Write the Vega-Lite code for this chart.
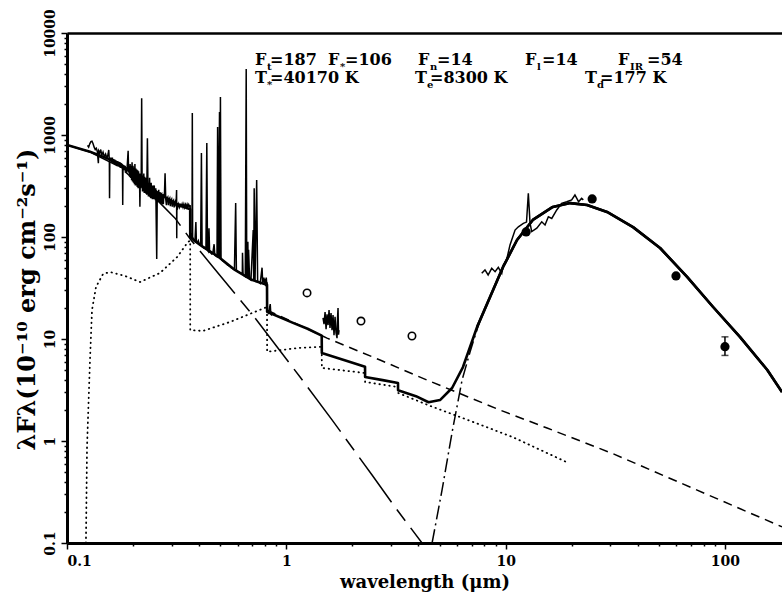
{
  "$schema": "https://vega.github.io/schema/vega-lite/v6.json",
  "width": 715,
  "height": 510,
  "autosize": {"type": "none"},
  "padding": {"left": 67, "top": 33, "right": 0, "bottom": 51},
  "background": "white",
  "config": {
    "view": {"stroke": null},
    "axis": {"grid": false, "domainColor": "black", "tickColor": "black", "labelColor": "black", "titleColor": "black", "labelFont": "DejaVu Serif", "titleFont": "DejaVu Serif", "labelFontWeight": "bold", "titleFontWeight": "bold", "labelFontSize": 14, "titleFontSize": 18}
  },
  "datasets": {
    "total": [
      {"w":0.1,"f":798},{"w":0.1273,"f":687},{"w":0.1744,"f":527},{"w":0.2153,"f":360},{"w":0.2572,"f":276},{"w":0.3109,"f":214},{"w":0.35,"f":193},{"w":0.3645,"f":187},{"w":0.3647,"f":100},{"w":0.3835,"f":91},{"w":0.417,"f":80},{"w":0.49,"f":64},{"w":0.583,"f":47.5},{"w":0.695,"f":38},{"w":0.8165,"f":34},{"w":0.8175,"f":18.5},{"w":1.073,"f":14.4},{"w":1.25,"f":12.6},{"w":1.45,"f":10.8},{"w":1.452,"f":7.3},{"w":1.8,"f":6.3},{"w":2.285,"f":5.35},{"w":2.287,"f":4.25},{"w":2.75,"f":3.95},{"w":3.23,"f":3.7},{"w":3.232,"f":3.15},{"w":3.9,"f":2.75},{"w":4.45,"f":2.4},{"w":5.02,"f":2.52},{"w":5.7,"f":3.31},{"w":6.39,"f":5.31},{"w":7.41,"f":13.1},{"w":8.49,"f":25.8},{"w":9.73,"f":50.8},{"w":11.27,"f":93.5},{"w":13.3,"f":147},{"w":16.4,"f":197},{"w":19.7,"f":215},{"w":23.5,"f":206},{"w":29,"f":176},{"w":38.1,"f":125},{"w":50.6,"f":78},{"w":67.2,"f":40.6},{"w":88.3,"f":20.6},{"w":117,"f":10.5},{"w":156,"f":4.97},{"w":182,"f":3.02}
    ],
    "star": [
      {"w":0.1,"f":798},{"w":0.1273,"f":681},{"w":0.1744,"f":485},{"w":0.2572,"f":231},{"w":0.3109,"f":153},{"w":0.3675,"f":93.5},{"w":0.4632,"f":50.8},{"w":0.7199,"f":16.1},{"w":1.155,"f":4.24},{"w":1.616,"f":1.61},{"w":2.46,"f":0.464},{"w":3.13,"f":0.225},{"w":4.157,"f":0.1}
    ],
    "neb": [
      {"w":0.122,"f":0.1},{"w":0.1234,"f":0.87},{"w":0.1273,"f":6.2},{"w":0.13,"f":19.2},{"w":0.1356,"f":32.4},{"w":0.146,"f":43.4},{"w":0.157,"f":45.4},{"w":0.184,"f":41.5},{"w":0.2153,"f":36.2},{"w":0.2655,"f":44.4},{"w":0.318,"f":63.7},{"w":0.356,"f":89.3},{"w":0.3645,"f":92},{"w":0.3647,"f":12.2},{"w":0.417,"f":12},{"w":0.554,"f":14.7},{"w":0.8165,"f":20.6},{"w":0.8175,"f":7.5},{"w":1.155,"f":8.2},{"w":1.45,"f":8.4},{"w":1.452,"f":5.2},{"w":2.285,"f":4.64},{"w":2.287,"f":3.79},{"w":3.23,"f":3.38},{"w":3.232,"f":2.96},{"w":4.43,"f":2.25},{"w":6.19,"f":1.72},{"w":10.8,"f":1.09},{"w":19.3,"f":0.61}
    ],
    "dashed": [
      {"w":0.818,"f":19.2},{"w":1.533,"f":10.2},{"w":2.675,"f":6.22},{"w":4.38,"f":3.96},{"w":9.43,"f":2.01},{"w":15.45,"f":1.34},{"w":30.9,"f":0.75},{"w":182,"f":0.144}
    ],
    "dust": [
      {"w":4.62,"f":0.1},{"w":5.13,"f":0.331},{"w":5.7,"f":1.22},{"w":6.33,"f":3.96},{"w":6.88,"f":7.46},{"w":7.64,"f":15.3},{"w":8.49,"f":25.8},{"w":9.73,"f":50.8},{"w":11.27,"f":93.5},{"w":13.3,"f":147},{"w":16.4,"f":197},{"w":19.7,"f":215},{"w":23.5,"f":206},{"w":29,"f":176},{"w":38.1,"f":125},{"w":50.6,"f":78},{"w":67.2,"f":40.6},{"w":88.3,"f":20.6},{"w":117,"f":10.5},{"w":156,"f":4.97},{"w":182,"f":3.02}
    ],
    "obs": [
      {"w":0.124,"f":790,"s":"a"},{"w":0.1255,"f":760,"s":"a"},{"w":0.127,"f":820,"s":"a"},{"w":0.1285,"f":860,"s":"a"},{"w":0.13,"f":870,"s":"a"},{"w":0.1315,"f":820,"s":"a"},{"w":0.133,"f":760,"s":"a"},{"w":0.1345,"f":720,"s":"a"},{"w":0.136,"f":740,"s":"a"},{"w":0.1375,"f":690,"s":"a"},{"w":0.139,"f":528,"s":"a"},{"w":0.1395,"f":700,"s":"a"},{"w":0.141,"f":670,"s":"a"},{"w":0.1425,"f":720,"s":"a"},{"w":0.144,"f":630,"s":"a"},{"w":0.146,"f":680,"s":"a"},{"w":0.148,"f":610,"s":"a"},{"w":0.15,"f":650,"s":"a"},{"w":0.152,"f":590,"s":"a"},{"w":0.154,"f":650,"s":"a"},{"w":0.155,"f":713,"s":"a"},{"w":0.156,"f":560,"s":"a"},{"w":0.1563,"f":240,"s":"a"},{"w":0.1568,"f":600,"s":"a"},{"w":0.158,"f":550,"s":"a"},{"w":0.159,"f":600,"s":"a"},{"w":0.16,"f":540,"s":"a"},{"w":0.161,"f":600,"s":"a"},{"w":0.162,"f":530,"s":"a"},{"w":0.163,"f":580,"s":"a"},{"w":0.164,"f":520,"s":"a"},{"w":0.165,"f":575,"s":"a"},{"w":0.166,"f":510,"s":"a"},{"w":0.167,"f":560,"s":"a"},{"w":0.168,"f":505,"s":"a"},{"w":0.169,"f":555,"s":"a"},{"w":0.17,"f":495,"s":"a"},{"w":0.171,"f":545,"s":"a"},{"w":0.172,"f":490,"s":"a"},{"w":0.173,"f":540,"s":"a"},{"w":0.174,"f":480,"s":"a"},{"w":0.175,"f":530,"s":"a"},{"w":0.176,"f":475,"s":"a"},{"w":0.177,"f":525,"s":"a"},{"w":0.178,"f":470,"s":"a"},{"w":0.179,"f":500,"s":"a"},{"w":0.1795,"f":206,"s":"a"},{"w":0.18,"f":500,"s":"a"},{"w":0.181,"f":455,"s":"a"},{"w":0.182,"f":500,"s":"a"},{"w":0.183,"f":450,"s":"a"},{"w":0.184,"f":500,"s":"a"},{"w":0.185,"f":440,"s":"a"},{"w":0.186,"f":480,"s":"a"},{"w":0.187,"f":430,"s":"a"},{"w":0.188,"f":480,"s":"a"},{"w":0.19,"f":702,"s":"a"},{"w":0.191,"f":430,"s":"a"},{"w":0.192,"f":490,"s":"a"},{"w":0.193,"f":390,"s":"a"},{"w":0.194,"f":520,"s":"a"},{"w":0.195,"f":380,"s":"a"},{"w":0.196,"f":500,"s":"a"},{"w":0.197,"f":360,"s":"a"},{"w":0.198,"f":540,"s":"a"},{"w":0.199,"f":350,"s":"a"},{"w":0.2,"f":500,"s":"a"},{"w":0.201,"f":340,"s":"a"},{"w":0.202,"f":480,"s":"a"},{"w":0.203,"f":330,"s":"a"},{"w":0.204,"f":520,"s":"a"},{"w":0.205,"f":320,"s":"a"},{"w":0.206,"f":470,"s":"a"},{"w":0.207,"f":320,"s":"a"},{"w":0.208,"f":460,"s":"a"},{"w":0.209,"f":310,"s":"a"},{"w":0.21,"f":450,"s":"a"},{"w":0.211,"f":300,"s":"a"},{"w":0.212,"f":440,"s":"a"},{"w":0.213,"f":300,"s":"a"},{"w":0.214,"f":420,"s":"a"},{"w":0.215,"f":198,"s":"a"},{"w":0.216,"f":420,"s":"a"},{"w":0.217,"f":300,"s":"a"},{"w":0.218,"f":400,"s":"a"},{"w":0.219,"f":2291,"s":"a"},{"w":0.22,"f":380,"s":"a"},{"w":0.221,"f":280,"s":"a"},{"w":0.222,"f":400,"s":"a"},{"w":0.223,"f":280,"s":"a"},{"w":0.224,"f":420,"s":"a"},{"w":0.225,"f":270,"s":"a"},{"w":0.226,"f":390,"s":"a"},{"w":0.227,"f":270,"s":"a"},{"w":0.228,"f":380,"s":"a"},{"w":0.229,"f":265,"s":"a"},{"w":0.23,"f":360,"s":"a"},{"w":0.231,"f":260,"s":"a"},{"w":0.2326,"f":929,"s":"a"},{"w":0.234,"f":300,"s":"a"},{"w":0.235,"f":250,"s":"a"},{"w":0.236,"f":340,"s":"a"},{"w":0.237,"f":250,"s":"a"},{"w":0.238,"f":380,"s":"a"},{"w":0.239,"f":245,"s":"a"},{"w":0.24,"f":330,"s":"a"},{"w":0.241,"f":240,"s":"a"},{"w":0.242,"f":340,"s":"a"},{"w":0.243,"f":240,"s":"a"},{"w":0.244,"f":320,"s":"a"},{"w":0.245,"f":235,"s":"a"},{"w":0.246,"f":320,"s":"a"},{"w":0.247,"f":235,"s":"a"},{"w":0.248,"f":300,"s":"a"},{"w":0.25,"f":320,"s":"a"},{"w":0.251,"f":235,"s":"a"},{"w":0.252,"f":290,"s":"a"},{"w":0.253,"f":230,"s":"a"},{"w":0.254,"f":300,"s":"a"},{"w":0.2565,"f":61,"s":"a"},{"w":0.258,"f":280,"s":"a"},{"w":0.259,"f":225,"s":"a"},{"w":0.26,"f":270,"s":"a"},{"w":0.261,"f":220,"s":"a"},{"w":0.262,"f":290,"s":"a"},{"w":0.263,"f":220,"s":"a"},{"w":0.264,"f":265,"s":"a"},{"w":0.266,"f":275,"s":"a"},{"w":0.267,"f":215,"s":"a"},{"w":0.268,"f":260,"s":"a"},{"w":0.27,"f":265,"s":"a"},{"w":0.271,"f":210,"s":"a"},{"w":0.272,"f":250,"s":"a"},{"w":0.274,"f":255,"s":"a"},{"w":0.275,"f":210,"s":"a"},{"w":0.276,"f":245,"s":"a"},{"w":0.278,"f":250,"s":"a"},{"w":0.28,"f":421,"s":"a"},{"w":0.282,"f":235,"s":"a"},{"w":0.284,"f":205,"s":"a"},{"w":0.285,"f":235,"s":"a"},{"w":0.288,"f":245,"s":"a"},{"w":0.29,"f":205,"s":"a"},{"w":0.291,"f":230,"s":"a"},{"w":0.294,"f":240,"s":"a"},{"w":0.296,"f":200,"s":"a"},{"w":0.297,"f":225,"s":"a"},{"w":0.3,"f":235,"s":"a"},{"w":0.302,"f":198,"s":"a"},{"w":0.303,"f":220,"s":"a"},{"w":0.306,"f":228,"s":"a"},{"w":0.308,"f":195,"s":"a"},{"w":0.309,"f":215,"s":"a"},{"w":0.312,"f":225,"s":"a"},{"w":0.314,"f":200,"s":"a"},{"w":0.316,"f":289,"s":"a"},{"w":0.3165,"f":97,"s":"a"},{"w":0.317,"f":210,"s":"a"},{"w":0.32,"f":195,"s":"a"},{"w":0.323,"f":210,"s":"a"},{"w":0.326,"f":196,"s":"a"},{"w":0.329,"f":212,"s":"a"},{"w":0.332,"f":195,"s":"a"},{"w":0.335,"f":210,"s":"a"},{"w":0.338,"f":196,"s":"a"},{"w":0.341,"f":210,"s":"a"},{"w":0.344,"f":195,"s":"a"},{"w":0.347,"f":208,"s":"a"},{"w":0.35,"f":196,"s":"a"},{"w":0.353,"f":209,"s":"a"},{"w":0.356,"f":197,"s":"a"},{"w":0.359,"f":208,"s":"a"},{"w":0.362,"f":199,"s":"a"},{"w":0.3645,"f":205,"s":"a"},{"w":0.365,"f":110,"s":"a"},{"w":0.368,"f":102,"s":"a"},{"w":0.37,"f":99,"s":"a"},{"w":0.3715,"f":102,"s":"a"},{"w":0.3727,"f":1644,"s":"a"},{"w":0.374,"f":100,"s":"a"},{"w":0.377,"f":96,"s":"a"},{"w":0.38,"f":93,"s":"a"},{"w":0.3835,"f":95,"s":"a"},{"w":0.3869,"f":140,"s":"a"},{"w":0.389,"f":90,"s":"a"},{"w":0.393,"f":88,"s":"a"},{"w":0.397,"f":92,"s":"a"},{"w":0.4,"f":86,"s":"a"},{"w":0.404,"f":84,"s":"a"},{"w":0.407,"f":86,"s":"a"},{"w":0.4101,"f":667,"s":"a"},{"w":0.413,"f":82,"s":"a"},{"w":0.417,"f":80,"s":"a"},{"w":0.422,"f":78,"s":"a"},{"w":0.427,"f":79,"s":"a"},{"w":0.43,"f":75,"s":"a"},{"w":0.434,"f":835,"s":"a"},{"w":0.437,"f":74,"s":"a"},{"w":0.441,"f":72,"s":"a"},{"w":0.444,"f":122,"s":"a"},{"w":0.447,"f":71,"s":"a"},{"w":0.452,"f":70,"s":"a"},{"w":0.457,"f":68,"s":"a"},{"w":0.462,"f":69,"s":"a"},{"w":0.4686,"f":85,"s":"a"},{"w":0.472,"f":66,"s":"a"},{"w":0.478,"f":65,"s":"a"},{"w":0.483,"f":64,"s":"a"},{"w":0.4861,"f":1200,"s":"a"},{"w":0.49,"f":63,"s":"a"},{"w":0.4959,"f":1680,"s":"a"},{"w":0.498,"f":62,"s":"a"},{"w":0.5007,"f":2360,"s":"a"},{"w":0.504,"f":61,"s":"a"},{"w":0.51,"f":59,"s":"a"},{"w":0.52,"f":57,"s":"a"},{"w":0.53,"f":55,"s":"a"},{"w":0.54,"f":53,"s":"a"},{"w":0.55,"f":52,"s":"a"},{"w":0.56,"f":50,"s":"a"},{"w":0.57,"f":49,"s":"a"},{"w":0.58,"f":48,"s":"a"},{"w":0.5876,"f":215,"s":"a"},{"w":0.592,"f":47,"s":"a"},{"w":0.6,"f":46,"s":"a"},{"w":0.61,"f":45,"s":"a"},{"w":0.62,"f":44,"s":"a"},{"w":0.63,"f":44,"s":"a"},{"w":0.6312,"f":70,"s":"a"},{"w":0.635,"f":43,"s":"a"},{"w":0.64,"f":42,"s":"a"},{"w":0.65,"f":41,"s":"a"},{"w":0.6563,"f":4436,"s":"a"},{"w":0.66,"f":40,"s":"a"},{"w":0.6678,"f":90,"s":"a"},{"w":0.67,"f":40,"s":"a"},{"w":0.673,"f":75,"s":"a"},{"w":0.68,"f":39,"s":"a"},{"w":0.69,"f":38,"s":"a"},{"w":0.7065,"f":117,"s":"a"},{"w":0.71,"f":38,"s":"a"},{"w":0.7136,"f":300,"s":"a"},{"w":0.72,"f":37,"s":"a"},{"w":0.7325,"f":362,"s":"a"},{"w":0.74,"f":36,"s":"a"},{"w":0.75,"f":36,"s":"a"},{"w":0.76,"f":35,"s":"a"},{"w":0.7751,"f":50,"s":"a"},{"w":0.78,"f":36,"s":"a"},{"w":0.79,"f":40,"s":"a"},{"w":0.795,"f":34,"s":"a"},{"w":0.8,"f":39,"s":"a"},{"w":0.805,"f":33,"s":"a"},{"w":0.81,"f":40,"s":"a"},{"w":0.815,"f":34,"s":"a"},{"w":0.8175,"f":36,"s":"a"},{"w":0.818,"f":19,"s":"a"},{"w":0.83,"f":18,"s":"a"},{"w":0.8446,"f":22,"s":"a"},{"w":0.85,"f":17.5,"s":"a"},{"w":0.86,"f":17,"s":"a"},
      {"w":1.47,"f":16.1,"s":"b"},{"w":1.486,"f":14,"s":"b"},{"w":1.502,"f":18.4,"s":"b"},{"w":1.518,"f":12.5,"s":"b"},{"w":1.533,"f":17.5,"s":"b"},{"w":1.55,"f":13.7,"s":"b"},{"w":1.566,"f":19.2,"s":"b"},{"w":1.582,"f":12.8,"s":"b"},{"w":1.599,"f":18,"s":"b"},{"w":1.616,"f":12.2,"s":"b"},{"w":1.633,"f":17.2,"s":"b"},{"w":1.65,"f":10.9,"s":"b"},{"w":1.668,"f":16.5,"s":"b"},{"w":1.685,"f":11.5,"s":"b"},{"w":1.703,"f":10.2,"s":"b"},{"w":1.712,"f":16,"s":"b"},{"w":1.721,"f":20.1,"s":"b"},{"w":1.73,"f":11,"s":"b"},{"w":1.739,"f":12.2,"s":"b"},
      {"w":7.78,"f":44.1,"s":"c"},{"w":8.05,"f":47.5,"s":"c"},{"w":8.32,"f":42.4,"s":"c"},{"w":8.64,"f":49.3,"s":"c"},{"w":8.95,"f":45.7,"s":"c"},{"w":9.26,"f":50.5,"s":"c"},{"w":9.6,"f":44.1,"s":"c"},{"w":9.76,"f":53.1,"s":"c"},{"w":10.1,"f":59.6,"s":"c"},{"w":10.47,"f":83.6,"s":"c"},{"w":11.04,"f":117,"s":"c"},{"w":11.43,"f":126,"s":"c"},{"w":12.04,"f":136,"s":"c"},{"w":12.45,"f":140,"s":"c"},{"w":12.69,"f":268,"s":"c"},{"w":12.92,"f":136,"s":"c"},{"w":13.15,"f":113,"s":"c"},{"w":13.87,"f":122,"s":"c"},{"w":14.61,"f":141,"s":"c"},{"w":15.12,"f":131,"s":"c"},{"w":15.66,"f":158,"s":"c"},{"w":16.23,"f":152,"s":"c"},{"w":17.1,"f":184,"s":"c"},{"w":18,"f":214,"s":"c"},{"w":19,"f":222,"s":"c"},{"w":20,"f":231,"s":"c"},{"w":20.7,"f":258,"s":"c"},{"w":21.5,"f":222,"s":"c"},{"w":22.2,"f":239,"s":"c"},{"w":22.6,"f":231,"s":"c"}
    ],
    "phot": [
      {"w":1.243,"f":28.3,"k":"open"},{"w":2.19,"f":15,"k":"open"},{"w":3.74,"f":10.7,"k":"open"},
      {"w":12.4,"f":112,"k":"fill"},{"w":24.8,"f":236,"k":"fill"},{"w":59.8,"f":41.5,"k":"fill"},{"w":100,"f":8.4,"k":"fill"}
    ],
    "err": [{"w":100,"lo":6.9,"hi":10.5}],
    "caps": [{"w":100,"f":6.9},{"w":100,"f":10.5}],
    "txt": [
      {"w":0.72,"f":4857,"t":"F","k":"m"},{"w":0.8426,"f":4857,"t":"=187","k":"m"},
      {"w":1.55,"f":4857,"t":"F","k":"m"},{"w":1.852,"f":4857,"t":"=106","k":"m"},
      {"w":3.986,"f":4857,"t":"F","k":"m"},{"w":4.866,"f":4857,"t":"=14","k":"m"},
      {"w":12.26,"f":4857,"t":"F","k":"m"},{"w":14.66,"f":4857,"t":"=14","k":"m"},
      {"w":32.55,"f":4857,"t":"F","k":"m"},{"w":44.13,"f":4857,"t":"=54","k":"m"},
      {"w":0.8165,"f":4857,"t":"t","k":"s"},{"w":1.7576,"f":4857,"t":"*","k":"s"},{"w":4.521,"f":4857,"t":"n","k":"s"},{"w":13.91,"f":4857,"t":"l","k":"s"},{"w":36.93,"f":4857,"t":"IR","k":"s"},
      {"w":0.72,"f":3235,"t":"T","k":"m"},{"w":0.8426,"f":3235,"t":"=40170 K","k":"m"},
      {"w":3.863,"f":3235,"t":"T","k":"m"},{"w":4.52,"f":3235,"t":"=8300 K","k":"m"},
      {"w":23.02,"f":3235,"t":"T","k":"m"},{"w":26.94,"f":3235,"t":"=177 K","k":"m"},
      {"w":0.8165,"f":3235,"t":"*","k":"s"},{"w":4.38,"f":3235,"t":"e","k":"s"},{"w":26.11,"f":3235,"t":"d","k":"s"}
    ]
  },
  "resolve": {"axis": {"x": "independent", "y": "independent"}},
  "layer": [
    {
      "data": {"name": "total"},
      "mark": {"type": "line", "stroke": "black", "strokeWidth": 2.6, "clip": true, "strokeJoin": "round"},
      "encoding": {
        "x": {"field": "w", "type": "quantitative", "scale": {"type": "log", "domain": [0.1, 182], "nice": false},
          "axis": {"orient": "bottom", "values": [0.1, 1, 10, 100], "format": "~g", "ticks": true, "tickSize": 6, "tickWidth": 1.5, "domainWidth": 3, "labelPadding": 5, "title": "wavelength (μm)", "titlePadding": 5}},
        "y": {"field": "f", "type": "quantitative", "scale": {"type": "log", "domain": [0.1, 10000], "nice": false},
          "axis": {"orient": "left", "values": [0.1, 1, 10, 100, 1000, 10000], "format": "~g", "ticks": true, "tickSize": 6, "tickWidth": 1.5, "domainWidth": 3, "labelAngle": 270, "labelPadding": 4, "title": "λFλ(10⁻¹⁰ erg cm⁻²s⁻¹)", "titleFontSize": 24, "titleX": -28, "titleY": 266}}
      }
    },
    {
      "data": {"name": "star"},
      "mark": {"type": "line", "stroke": "black", "strokeWidth": 1.5, "strokeDash": [55, 9, 14, 9], "clip": true},
      "encoding": {
        "x": {"field": "w", "type": "quantitative", "scale": {"type": "log", "domain": [0.1, 182], "nice": false},
          "axis": {"orient": "bottom", "values": [0.2,0.3,0.4,0.5,0.6,0.7,0.8,0.9,2,3,4,5,6,7,8,9,20,30,40,50,60,70,80,90], "ticks": true, "tickSize": 3, "tickWidth": 1.5, "domain": false, "labels": false, "title": null}},
        "y": {"field": "f", "type": "quantitative", "scale": {"type": "log", "domain": [0.1, 10000], "nice": false},
          "axis": {"orient": "left", "values": [0.2,0.3,0.4,0.5,0.6,0.7,0.8,0.9,2,3,4,5,6,7,8,9,20,30,40,50,60,70,80,90,200,300,400,500,600,700,800,900,2000,3000,4000,5000,6000,7000,8000,9000], "ticks": true, "tickSize": 3, "tickWidth": 1.5, "domain": false, "labels": false, "title": null}}
      }
    },
    {
      "data": {"name": "neb"},
      "mark": {"type": "line", "stroke": "black", "strokeWidth": 1.8, "strokeDash": [0.5, 4.5], "strokeCap": "round", "clip": true},
      "encoding": {
        "x": {"field": "w", "type": "quantitative", "scale": {"type": "log", "domain": [0.1, 182], "nice": false},
          "axis": {"orient": "top", "values": [0.1, 1, 10, 100], "ticks": false, "domainWidth": 2.5, "labels": false, "title": null}},
        "y": {"field": "f", "type": "quantitative", "scale": {"type": "log", "domain": [0.1, 10000], "nice": false}, "axis": null}
      }
    },
    {
      "data": {"name": "dashed"},
      "mark": {"type": "line", "stroke": "black", "strokeWidth": 1.5, "strokeDash": [9, 6], "clip": true},
      "encoding": {
        "x": {"field": "w", "type": "quantitative", "scale": {"type": "log", "domain": [0.1, 182], "nice": false}, "axis": null},
        "y": {"field": "f", "type": "quantitative", "scale": {"type": "log", "domain": [0.1, 10000], "nice": false}, "axis": null}
      }
    },
    {
      "data": {"name": "dust"},
      "mark": {"type": "line", "stroke": "black", "strokeWidth": 1.5, "strokeDash": [14, 4, 2, 4], "clip": true},
      "encoding": {
        "x": {"field": "w", "type": "quantitative", "scale": {"type": "log", "domain": [0.1, 182], "nice": false}, "axis": null},
        "y": {"field": "f", "type": "quantitative", "scale": {"type": "log", "domain": [0.1, 10000], "nice": false}, "axis": null}
      }
    },
    {
      "data": {"name": "total"},
      "mark": {"type": "line", "stroke": "black", "strokeWidth": 2.6, "clip": true, "strokeJoin": "round"},
      "transform": [{"filter": "datum.w > 7"}],
      "encoding": {
        "x": {"field": "w", "type": "quantitative", "scale": {"type": "log", "domain": [0.1, 182], "nice": false}, "axis": null},
        "y": {"field": "f", "type": "quantitative", "scale": {"type": "log", "domain": [0.1, 10000], "nice": false}, "axis": null}
      }
    },
    {
      "data": {"name": "obs"},
      "mark": {"type": "line", "stroke": "black", "strokeWidth": 1.5, "clip": true},
      "encoding": {
        "x": {"field": "w", "type": "quantitative", "scale": {"type": "log", "domain": [0.1, 182], "nice": false}, "axis": null},
        "y": {"field": "f", "type": "quantitative", "scale": {"type": "log", "domain": [0.1, 10000], "nice": false}, "axis": null},
        "detail": {"field": "s"}
      }
    },
    {
      "data": {"name": "phot"},
      "transform": [{"filter": "datum.k == 'open'"}],
      "mark": {"type": "point", "shape": "circle", "filled": false, "stroke": "black", "strokeWidth": 1.6, "size": 55, "opacity": 1},
      "encoding": {
        "x": {"field": "w", "type": "quantitative", "scale": {"type": "log", "domain": [0.1, 182], "nice": false}, "axis": null},
        "y": {"field": "f", "type": "quantitative", "scale": {"type": "log", "domain": [0.1, 10000], "nice": false}, "axis": null}
      }
    },
    {
      "data": {"name": "phot"},
      "transform": [{"filter": "datum.k == 'fill'"}],
      "mark": {"type": "circle", "color": "black", "size": 85, "opacity": 1},
      "encoding": {
        "x": {"field": "w", "type": "quantitative", "scale": {"type": "log", "domain": [0.1, 182], "nice": false}, "axis": null},
        "y": {"field": "f", "type": "quantitative", "scale": {"type": "log", "domain": [0.1, 10000], "nice": false}, "axis": null}
      }
    },
    {
      "data": {"name": "err"},
      "mark": {"type": "rule", "color": "black", "strokeWidth": 1.5},
      "encoding": {
        "x": {"field": "w", "type": "quantitative", "scale": {"type": "log", "domain": [0.1, 182], "nice": false}, "axis": null},
        "y": {"field": "lo", "type": "quantitative", "scale": {"type": "log", "domain": [0.1, 10000], "nice": false}, "axis": null},
        "y2": {"field": "hi"}
      }
    },
    {
      "data": {"name": "caps"},
      "mark": {"type": "tick", "orient": "horizontal", "color": "black", "thickness": 1.5, "size": 7},
      "encoding": {
        "x": {"field": "w", "type": "quantitative", "scale": {"type": "log", "domain": [0.1, 182], "nice": false}, "axis": null},
        "y": {"field": "f", "type": "quantitative", "scale": {"type": "log", "domain": [0.1, 10000], "nice": false}, "axis": null}
      }
    },
    {
      "data": {"name": "txt"},
      "transform": [{"filter": "datum.k == 'm'"}],
      "mark": {"type": "text", "align": "left", "baseline": "alphabetic", "font": "DejaVu Serif", "fontWeight": "bold", "fontSize": 16, "color": "black"},
      "encoding": {
        "x": {"field": "w", "type": "quantitative", "scale": {"type": "log", "domain": [0.1, 182], "nice": false}, "axis": null},
        "y": {"field": "f", "type": "quantitative", "scale": {"type": "log", "domain": [0.1, 10000], "nice": false}, "axis": null},
        "text": {"field": "t"}
      }
    },
    {
      "data": {"name": "txt"},
      "transform": [{"filter": "datum.k == 's'"}],
      "mark": {"type": "text", "align": "left", "baseline": "alphabetic", "font": "DejaVu Serif", "fontWeight": "bold", "fontSize": 10, "dy": 5, "color": "black"},
      "encoding": {
        "x": {"field": "w", "type": "quantitative", "scale": {"type": "log", "domain": [0.1, 182], "nice": false}, "axis": null},
        "y": {"field": "f", "type": "quantitative", "scale": {"type": "log", "domain": [0.1, 10000], "nice": false}, "axis": null},
        "text": {"field": "t"}
      }
    }
  ]
}
